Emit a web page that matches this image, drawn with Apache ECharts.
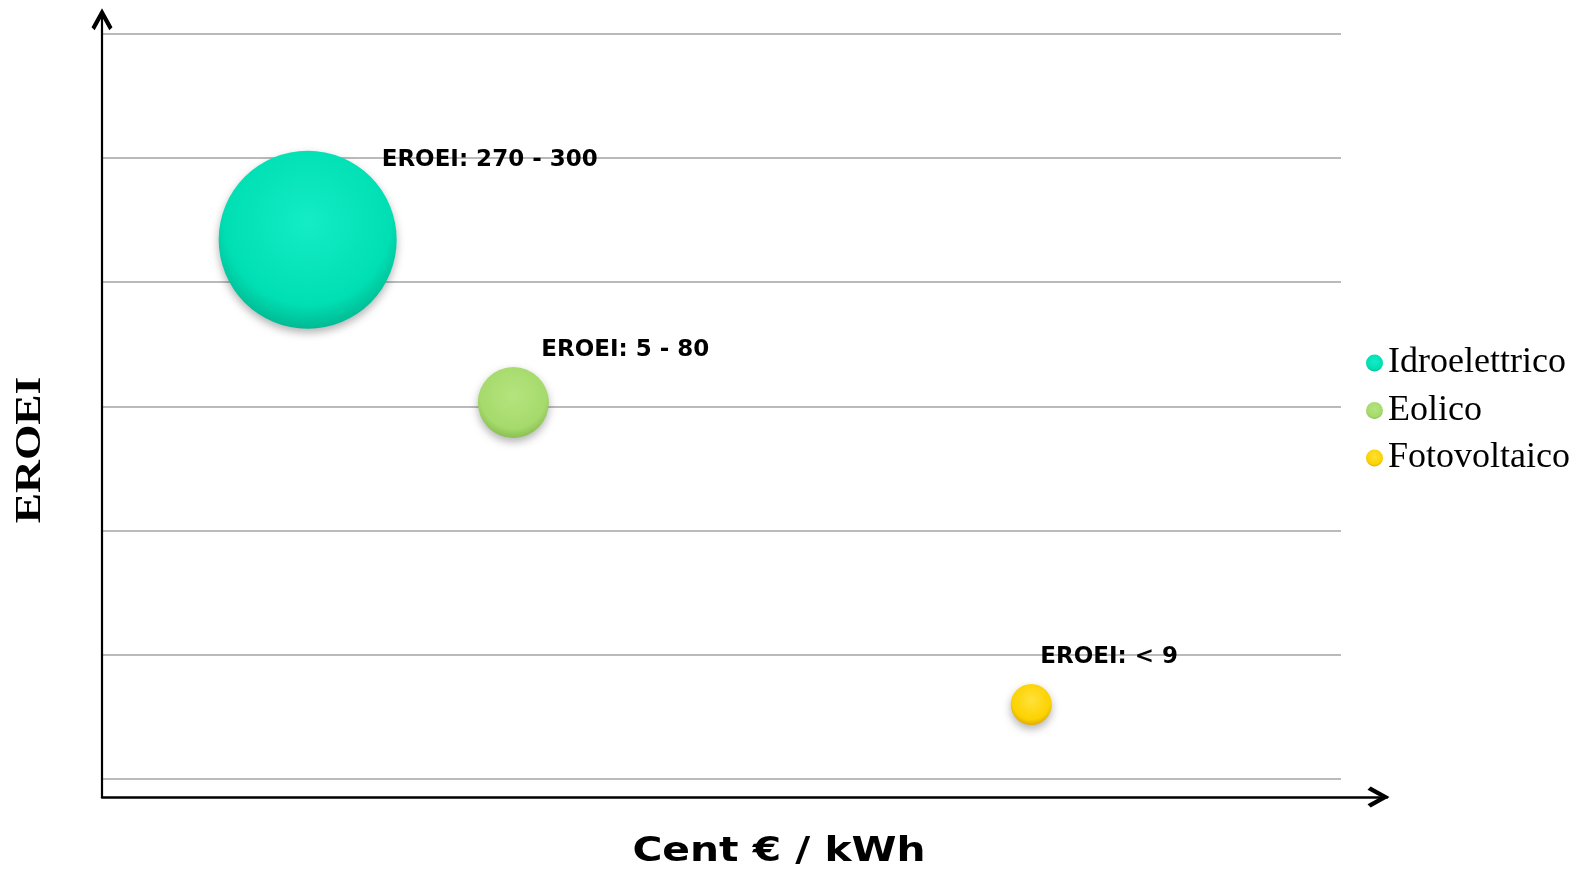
<!DOCTYPE html>
<html>
<head>
<meta charset="utf-8">
<title>EROEI vs Cent € / kWh</title>
<script src="https://cdn.jsdelivr.net/npm/echarts/dist/echarts.min.js"></script>
<style>
    html, body { margin: 0; padding: 0; background: #fff; }
    #chart { width: 1591px; height: 872px; }
</style>
</head>
<body>
<div id="chart"></div>
<script>
    // dati
    const categories = ['Idroelettrico', 'Eolico', 'Fotovoltaico'];
    const costCent = [3.32, 6.64, 15];        // asse x: Cent € / kWh
    const eroeiPos = [43.4, 30.3, 6.0];       // asse y: EROEI (posizione)
    const bubbleSize = [178, 71, 41];         // dimensione bolla
    const eroeiLabels = ['EROEI: 270 - 300', 'EROEI: 5 - 80', 'EROEI: < 9'];

    const colorArr = [
        ['#14ecc6', '#00dfb3', '#00b48e'],
        ['#b4e47e', '#a6da6c', '#85bd4e'],
        ['#ffe13a', '#fdd200', '#dca800']
    ];
    // spostamento etichette rispetto al centro della bolla
    const labelOffsets = [[74, -80], [28, -52], [9, -47]];

    // freccia aperta per gli assi
    const chevron = 'path://M10,0 L20,18 L17,21 L10,8.4 L3,21 L0,18 Z';

    const chart = echarts.init(document.getElementById('chart'));

    const seriesArr = categories.map((name, i) => {
        return {
            name: name,
            type: 'scatter',
            xAxisIndex: 0,
            yAxisIndex: 0,
            data: [[costCent[i], eroeiPos[i], bubbleSize[i]]],
            symbolSize: d => d[2],
            itemStyle: {
                color: {
                    type: 'radial', x: 0.5, y: 0.4, r: 0.62,
                    colorStops: [
                        { offset: 0, color: colorArr[i][0] },
                        { offset: 0.75, color: colorArr[i][1] },
                        { offset: 1, color: colorArr[i][2] }
                    ]
                },
                opacity: 1,
                shadowBlur: 8,
                shadowOffsetY: 4,
                shadowColor: 'rgba(0,0,0,0.3)'
            },
            label: {
                show: true,
                position: 'inside',
                align: 'left',
                verticalAlign: 'middle',
                offset: labelOffsets[i],
                formatter: () => eroeiLabels[i],
                fontFamily: 'DejaVu Sans',
                fontWeight: 'bold',
                fontSize: 23,
                color: '#000'
            },
            emphasis: { disabled: true }
        };
    });

    const option = {
        animation: false,
        backgroundColor: '#fff',
        grid: [
            // griglia dei dati
            { left: 102, right: 250, top: 33.5, bottom: 93, outerBoundsMode: 'none' },
            // griglia solo per gli assi con frecce
            { left: 102, right: 204, top: 11, bottom: 75, outerBoundsMode: 'none' }
        ],
        legend: {
            orient: 'vertical',
            left: 1366,
            top: 345,
            padding: 0,
            itemWidth: 17,
            itemHeight: 17,
            itemGap: 11.5,
            icon: 'circle',
            data: categories,
            textStyle: {
                fontFamily: 'Liberation Serif',
                fontSize: 36,
                lineHeight: 36,
                color: '#000'
            }
        },
        xAxis: [
            { gridIndex: 0, type: 'value', min: 0, max: 20, show: false },
            {
                gridIndex: 1, type: 'value', min: 0, max: 1,
                axisLine: {
                    show: true,
                    symbol: ['none', chevron],
                    symbolSize: [24, 22],
                    symbolOffset: [0, -8.5],
                    lineStyle: { color: '#000', width: 2.5 }
                },
                axisTick: { show: false },
                axisLabel: { show: false },
                splitLine: { show: false }
            }
        ],
        yAxis: [
            {
                gridIndex: 0, type: 'value', min: 0, max: 60, interval: 10,
                axisLine: { show: false },
                axisTick: { show: false },
                axisLabel: { show: false },
                splitLine: { show: true, lineStyle: { color: '#a3a3a3', width: 1.5 } }
            },
            {
                gridIndex: 1, type: 'value', min: 0, max: 1,
                axisLine: {
                    show: true,
                    symbol: ['none', chevron],
                    symbolSize: [22, 22],
                    symbolOffset: [0, -8.3],
                    lineStyle: { color: '#000', width: 2.2 }
                },
                axisTick: { show: false },
                axisLabel: { show: false },
                splitLine: { show: false }
            }
        ],
        graphic: [
            // titolo asse y (testo allungato come nell'originale)
            {
                type: 'text',
                x: 31,
                y: 450,
                rotation: Math.PI / 2,
                scaleX: 1.3,
                style: {
                    text: 'EROEI',
                    font: 'bold 35px "Liberation Serif"',
                    align: 'center',
                    verticalAlign: 'middle',
                    fill: '#000'
                }
            },
            // titolo asse x
            {
                type: 'text',
                x: 779,
                y: 852,
                scaleX: 1.2,
                style: {
                    text: 'Cent € / kWh',
                    font: 'bold 34px "DejaVu Sans"',
                    align: 'center',
                    verticalAlign: 'middle',
                    fill: '#000'
                }
            }
        ],
        series: seriesArr
    };

    chart.setOption(option);
</script>
</body>
</html>
